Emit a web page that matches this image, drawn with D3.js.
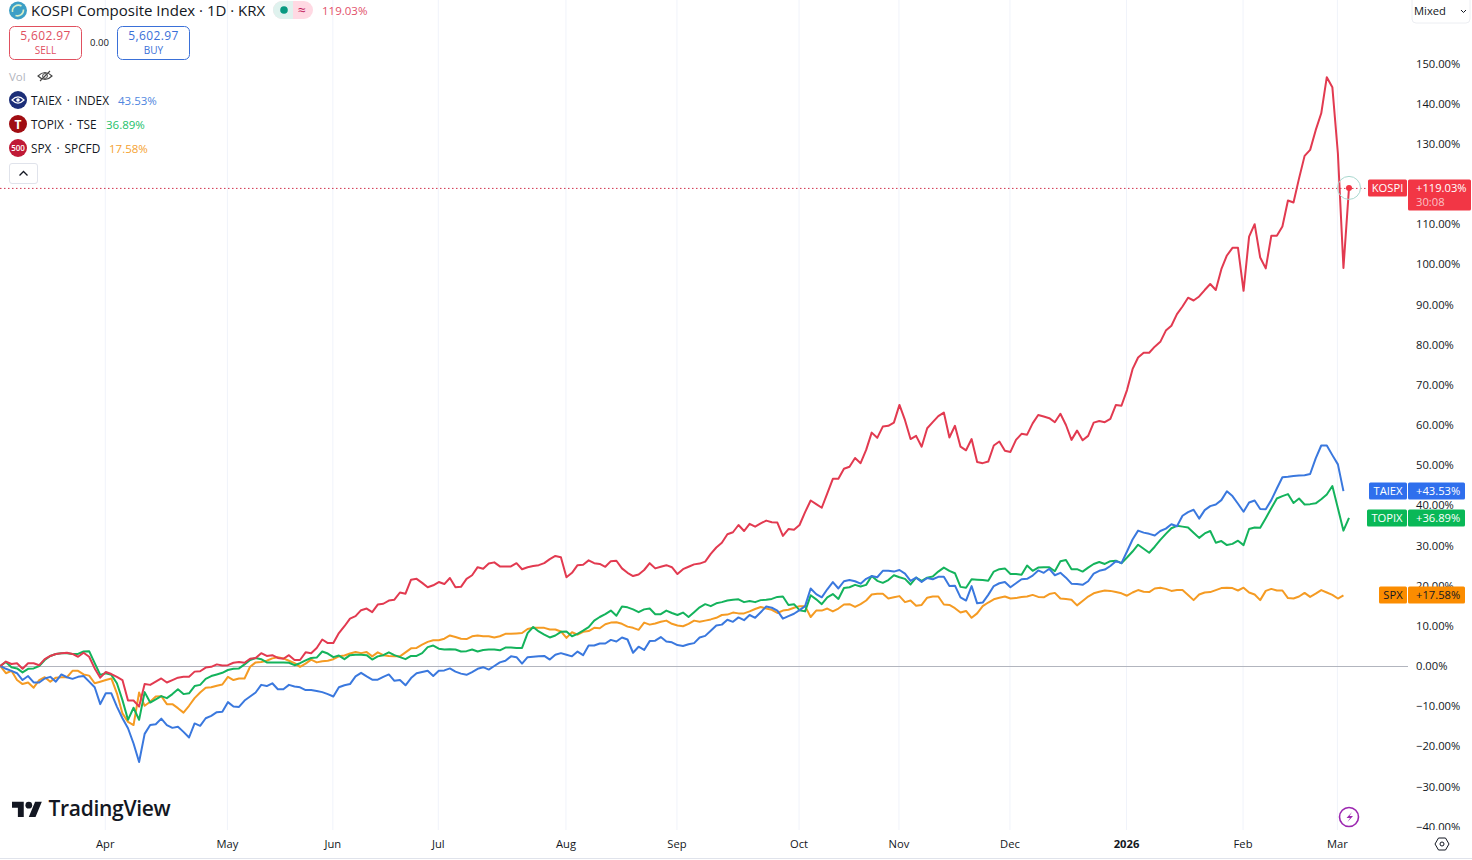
<!DOCTYPE html>
<html><head><meta charset="utf-8">
<script src="https://cdnjs.cloudflare.com/ajax/libs/d3/7.8.5/d3.min.js"></script>
<style>
html,body{margin:0;padding:0;background:#fff;overflow:hidden}
svg{display:block}
text{font-family:"Open Sans","Noto Sans",Roboto,sans-serif}
</style></head><body>
<svg id="c" width="1472" height="860"></svg>
<script>
const kospi=[0,1.1,.5,.7,-.7,.7,.7,.2,1.7,2.5,3,3.2,3.3,3,2.3,3.3,2.3,-.6,-2.9,-1.5,-2,-2.7,-3.5,-8.6,-8.6,-10.1,-4.5,-4.7,-3.9,-3.1,-4.1,-3.5,-2.9,-2.7,-2.7,-1.4,-1.3,-.4,-.2,.4,.1,.2,.8,1,.8,1.8,2,3.2,2.5,2.7,2,1.8,2.7,1.5,1.5,
3.4,3.2,4.5,6.6,5.7,5.7,8.2,9.9,11.8,12.4,13.9,14.3,13.4,15.3,15.5,16.3,16.5,18.3,18,21.5,21.7,20.7,19.6,20.1,20.9,20.4,21.9,19.6,19.7,21.7,22.6,24.6,24.2,25.5,25.8,24.8,24.8,24.8,25.6,24.1,24.6,24.9,25.1,25.6,26.6,27.4,27.1,22.1,23.2,25.1,25.2,26.3,25.6,
25.4,24.7,26.1,26.2,24.3,23.2,22.4,22.8,23.9,25.6,24.3,24.7,25.1,24.6,22.9,24.1,24.7,25.3,25.5,26,27.9,29.5,30.7,32.8,33.3,35.1,33.6,35.4,34.7,35.5,36.2,35.8,35.7,32.4,34.1,33.9,35.1,
38.3,41.2,40.3,39.4,43,46.6,46.6,49.1,49.6,51.8,50.5,53.8,58.1,56.8,59.6,59.8,60.6,65,61.2,56.5,57.3,54.6,59.2,60.7,62.2,63.1,56.9,59.8,54.6,53.7,56.5,50.8,50.5,50.9,54.9,55.9,53.6,53.3,56.3,57.8,57.6,60.4,62.5,62.1,61.7,60.7,62.8,60,56.3,58.6,56.2,57.3,60.6,61,60.7,61.5,65,64.8,68.7,
73.9,76.8,78,78,79.5,80.7,83.5,84.7,87.6,89.5,91.7,91,92,93.6,95.1,93.6,98.8,102.2,104.1,104.1,93.4,106.9,110,101.7,99,107.1,107.1,109.4,115.9,115.4,121.4,127,128.5,133.4,137.6,146.6,144.1,127.6,99.1,119.03];
const taiex=[0,-.7,-1.2,-1.8,-3.5,-2.5,-4.1,-4.1,-3.1,-2.7,-3.9,-2.1,-2.8,-3.2,-2.7,-2.5,-3.9,-5.3,-9.5,-6.8,-6.8,-10.1,-13,-15.5,-19.3,-23.9,-16.9,-14.7,-14.5,-13.1,-14.7,-15.4,-15.1,-16.4,-17.8,-14.3,-14.9,-13,-12.4,-11.5,-11.4,-9,-10.1,-10.2,-8.6,-7.6,-6.6,-4.7,-5,-4.3,-5.8,-5.8,-4.7,-5.1,-5.3,
-6,-6,-6.2,-6.5,-7,-7.6,-5.3,-4.8,-4.5,-2.6,-1.7,-2.6,-3.4,-3.4,-2.7,-2.1,-3.7,-3.5,-4.8,-3,-1.8,-1.5,-1.2,-2.5,-1.2,-1.1,-.6,-1.4,-1.9,-2.2,-1.5,-.7,-.3,-.9,0,.9,1.3,2.4,2.2,.6,2.2,2.3,2.4,2.5,1.6,2.8,3.2,2.8,2.4,3.6,2.7,5.1,5.1,
5.6,5.6,6.5,6.1,7.1,6.6,3.3,4.8,4,6.2,6.3,7.2,6.1,5.9,5.2,5,5.4,5.7,7.1,7.5,8.8,10.1,10.3,11.5,11,12.1,11.4,12.7,12,13.4,14.8,14.5,13.8,11.8,12.4,13,13.9,14.9,19.3,17.9,17.1,19.1,20.9,19.3,21.1,21.4,21.1,20.5,21.7,22.4,22.1,23.7,23.7,23.5,23.9,
23,21.2,22,20.9,21.9,21.6,22.2,22.2,19.9,20,17.1,16.3,19.9,15.6,15.8,17.7,19.9,20.6,20.9,19.6,20.6,21.6,21.7,22.5,23.8,23.2,24.2,22.6,23.2,22,20.5,20.4,20.2,21.1,23,23.7,24,24.9,26.1,25.6,28.5,31.5,33.7,33.2,32.9,32.5,33.6,34.2,35.3,34.8,37.4,38.3,38.9,36.7,
38.8,39.8,40.2,41.3,43.5,42.3,40.4,38.4,40.7,41.2,39.1,39,41.3,44.2,47,47.1,47.3,47.4,47.5,47.8,51.7,54.9,54.9,52.5,50.2,43.53];
const topix=[0,1,-.3,-.6,-1.6,-.7,-.6,0,1.5,2.5,3,3.2,3.2,3,3,3.6,3.7,.7,-2.2,-1.8,-2.2,-4.3,-8.5,-13.4,-10.4,-13.4,-6.5,-9.1,-8.3,-7.5,-8,-7,-5.8,-7,-6.8,-5,-4.7,-3.2,-2.5,-2.1,-1.7,-1,-.7,-.6,.4,1.5,2,1.7,.9,.9,.9,.9,.8,.2,.7,
1.4,2,2.1,3.6,3.1,2.2,2.6,1.7,2.7,2.8,2.8,2.7,1.6,2.4,2.7,3.4,2.7,2.2,1.7,2.5,2.5,3.2,4.7,5.1,4.3,4.1,4.2,4.1,3.6,3.7,4.1,3.6,4,4.1,4.1,3.9,4.6,4.6,4.5,4.5,8.2,9.7,8.6,7.8,7.1,7.6,8.5,8.6,7.4,8,8.8,9.7,11.3,
12.2,12.9,13.8,12.5,14.8,14.6,14.1,13.4,14.1,14.3,12.9,12.9,13.8,13.2,12.7,13.3,12.2,13.4,14.6,15.4,14.9,15.6,15.9,16.3,16.5,16.6,15.9,16.2,15.9,16.4,16.5,16.7,17.2,17.3,15.2,15.4,13.9,13.6,17.6,16.6,15.4,17.1,17.9,16.7,19.4,19.6,20.2,19.8,20.2,22.4,21.2,20.7,21.4,22.6,22.1,
21.7,20.3,22,21.2,22,22.3,23.5,24.5,23.7,23.1,19.7,19.5,21.6,21.5,21.4,21.2,23.5,24.1,24.3,22.9,22.9,22.7,25,23.7,24.5,24.6,24.6,23.6,26.1,26.4,24.1,24.1,23.5,24.5,25.4,25.9,25.4,26.1,26.2,25.6,27,28.5,30.2,29.2,28.2,29.7,31.4,32.9,34.3,34.9,34.7,34.5,33.2,31.9,
33,33.6,30.7,31.1,30.1,30.4,31.2,30.1,34.1,34.5,34.4,36.8,39.3,41.7,42.3,42.8,40.6,41.7,40.2,40.3,40.5,41.5,42.7,44.8,39.3,33.7,36.89];
const spx=[0,-1.8,-1.2,-3.5,-4.5,-4.1,-5.4,-3.5,-2.8,-3.9,-2.9,-2.8,-2.8,-1.2,-1.2,-2.1,-2.4,-4.3,-3.9,-3.5,-3.1,-6.8,-11.8,-13.9,-14.7,-6.6,-9.9,-8.9,-7.6,-7.5,-9.5,-9.5,-10.5,-11.6,-9.9,-8,-6.6,-5.4,-5.3,-4.9,-4.6,-2.7,-3.5,-3.1,-3.1,-.2,.9,1,1.3,1.9,2.2,1.9,1.3,.7,-.2,
.6,1.6,.9,1.2,1.3,1.7,2.4,2.6,3.1,3.5,3.2,3.5,2.4,3.4,2.7,2.5,2.4,2.4,3.4,4.4,4.5,5.3,6,6.4,6.4,6.8,7.6,7.2,6.8,6.7,7.4,7.6,7.4,7.4,7.1,7.4,8,8,8.1,8.2,9.2,9.5,9.5,9.5,9.1,9.1,8.6,7,8.4,7.8,8.5,8.7,9.5,
9.4,10.4,10.8,10.9,10.5,9.8,9.5,9,10.8,10.3,10.6,11,11.3,10.5,10.1,9.9,10.5,11.3,11,11.3,11.6,12,12.7,12.8,13.3,13.1,13.1,13.6,14.2,14.7,14.3,14,13.2,13.8,14,14.5,14.9,14.9,12.2,13.8,13.8,14.3,13.6,14.3,15.3,15.4,14.7,15.4,16.3,17.8,18,18,16.8,17.1,17.4,
15.9,16.3,15,15.2,17,17.3,17.3,15.3,15.2,14.4,13.3,13.7,12,13.1,14.9,15.8,16.6,17,17.3,16.8,16.9,17.2,17.3,17.7,17.2,17.1,17.9,18.2,16.8,16.7,16.5,15.1,16.2,17.3,18.1,18.5,18.8,18.7,18.4,18.1,17.5,18.3,18.9,18.5,18.4,19.3,19.5,19.2,18.7,18.9,18.9,17.7,16.4,17.8,
18.3,18.4,18.9,19.4,19.5,19.4,18.8,19.5,18.3,17.8,16.4,18.7,19.2,18.8,18.8,16.9,16.8,17.3,18.2,17.2,18,18.9,18.3,17.7,16.8,17.58];
const pctTicks=[150,140,130,110,100,90,80,70,60,50,40,30,20,10,0,-10,-20,-30,-40];
const monthBars=[19,41,60,79,102,122,144,162,182,203,224,241];
const monthLabels=["Apr","May","Jun","Jul","Aug","Sep","Oct","Nov","Dec","2026","Feb","Mar"];
const seriesNames=["KOSPI","TAIEX","TOPIX","SPX"];
const seriesColors=["#e23a50","#3a78de","#14b35c","#f59b23"];
const tagColors=["#f23645","#2f6fed","#09b857","#fb8c00"];
const allSeries=[kospi,taiex,topix,spx];
const legendRows=[["TAIEX · INDEX","43.53%"],["TOPIX · TSE","36.89%"],["SPX · SPCFD","17.58%"]];

const svg=d3.select("#c");
const x=d3.scaleLinear().domain([0,243]).range([0.35,1349]);
const y=d3.scaleLinear().domain([0,150]).range([666,63.5]);
const ink="#131722";

svg.append("g").selectAll("line").data(monthBars).join("line")
 .attr("x1",d=>x(d)-.5).attr("x2",d=>x(d)-.5).attr("y1",0).attr("y2",830)
 .attr("stroke","#f0f3fa").attr("stroke-width",1);
svg.append("line").attr("x1",0).attr("x2",1408).attr("y1",y(0)+.5).attr("y2",y(0)+.5).attr("stroke","#b2b5be");
svg.append("line").attr("x1",0).attr("x2",1368).attr("y1",y(119.03)+.5).attr("y2",y(119.03)+.5)
 .attr("stroke","#d0304a").attr("stroke-dasharray","1.5 2.5");

const line=d3.line().x((d,i)=>x(i)).y(d=>y(d));
[3,2,1,0].forEach(k=>{
 svg.append("path").datum(allSeries[k]).attr("d",line).attr("fill","none")
  .attr("stroke",seriesColors[k]).attr("stroke-width",2).attr("stroke-linejoin","round");
});
svg.append("circle").attr("cx",x(243)).attr("cy",y(119.03)).attr("r",11.5).attr("fill","none").attr("stroke","#a9d8cf").attr("stroke-width",1);
svg.append("circle").attr("cx",x(243)).attr("cy",y(119.03)).attr("r",3).attr("fill","#f23645");

const fmt=d=>(d<0?"\u2212":"")+Math.abs(d).toFixed(2)+"%";
const ax=svg.append("g").attr("transform","translate(1408,0)")
 .call(d3.axisRight(y).tickValues(pctTicks).tickSize(0).tickPadding(8).tickFormat(fmt));
ax.select(".domain").remove();
ax.selectAll("text").attr("font-size",11.2).attr("fill",ink).attr("font-family",'"Open Sans",sans-serif');

svg.append("rect").attr("x",0).attr("y",830).attr("width",1472).attr("height",30).attr("fill","#fff");
const tx=svg.append("g").attr("transform","translate(-1,834)")
 .call(d3.axisBottom(x).tickValues(monthBars).tickSize(0).tickPadding(6).tickFormat((d,i)=>monthLabels[i]));
tx.select(".domain").remove();
tx.selectAll("text").attr("font-size",11.2).attr("fill",ink).attr("font-family",'"Open Sans",sans-serif')
 .attr("font-weight",(d,i)=>monthLabels[i]==="2026"?700:400);
svg.append("line").attr("x1",0).attr("x2",1472).attr("y1",858.5).attr("y2",858.5).attr("stroke","#e0e3eb");

function tag(k,val,nameX){
 const yy=y(val), top=Math.round(yy)-8.5;
 const g=svg.append("g");
 g.append("rect").attr("x",nameX).attr("y",top).attr("width",1407-nameX).attr("height",17).attr("rx",1.5).attr("fill",tagColors[k]);
 const fg=k===3?"#131722":"#fff";
 g.append("text").attr("x",(nameX+1407)/2).attr("y",top+12.5).attr("text-anchor","middle").attr("font-size",11.2).attr("fill",fg).text(seriesNames[k]);
 g.append("rect").attr("x",1408).attr("y",top).attr("width",k===0?63:57).attr("height",k===0?31:17).attr("rx",1.5).attr("fill",tagColors[k]);
 g.append("text").attr("x",1416).attr("y",top+12.5).attr("font-size",11.2).attr("fill",fg).text("+"+val.toFixed(2)+"%");
 if(k===0) g.append("text").attr("x",1416).attr("y",top+26.5).attr("font-size",11.2).attr("fill","#fff").attr("fill-opacity",.7).text("30:08");
}
tag(1,taiex[taiex.length-1],1369);
tag(2,topix[topix.length-1],1367);
tag(3,spx[spx.length-1],1379);
tag(0,kospi[kospi.length-1],1368);

svg.append("circle").attr("cx",18).attr("cy",10.5).attr("r",9).attr("fill","#3c9fc6");
svg.append("path").attr("d","M12.5 12a6 6 0 0 1 9-6M23.5 9.5a6 6 0 0 1-8 6").attr("fill","none").attr("stroke","#d8efc8").attr("stroke-width",1.6);
svg.append("text").attr("x",31).attr("y",16).attr("font-size",15).attr("fill",ink).text("KOSPI Composite Index · 1D · KRX");
svg.append("rect").attr("x",273).attr("y",1).attr("width",40).attr("height",18).attr("rx",9).attr("fill","#ffd9e3");
svg.append("path").attr("d","M282 1h11v18h-11a9 9 0 0 1 0-18z").attr("fill","#dff2ee");
svg.append("circle").attr("cx",284).attr("cy",10).attr("r",3.8).attr("fill","#089981");
svg.append("text").attr("x",302).attr("y",14.5).attr("text-anchor","middle").attr("font-size",14).attr("fill","#c2185b").text("≈");
svg.append("text").attr("x",322).attr("y",15).attr("font-size",11.5).attr("fill","#e2506a").text("119.03%");

[[9.5,"#e0505f","5,602.97","SELL"],[117.5,"#3a70d8","5,602.97","BUY"]].forEach(b=>{
 svg.append("rect").attr("x",b[0]).attr("y",26.5).attr("width",72).attr("height",33).attr("rx",5).attr("fill","#fff").attr("stroke",b[1]);
 svg.append("text").attr("x",b[0]+36).attr("y",40).attr("text-anchor","middle").attr("font-size",12).attr("letter-spacing",.4).attr("fill",b[1]).text(b[2]);
 svg.append("text").attr("x",b[0]+36).attr("y",54).attr("text-anchor","middle").attr("font-size",10).attr("fill",b[1]).text(b[3]);
});
svg.append("text").attr("x",99.5).attr("y",46).attr("text-anchor","middle").attr("font-size",9.5).attr("fill",ink).text("0.00");
svg.append("text").attr("x",9).attr("y",81).attr("font-size",11.5).attr("fill","#b2b5be").text("Vol");
svg.append("path").attr("d","M38 76q7-7 14 0q-7 7-14 0zM40 81l10-10").attr("fill","none").attr("stroke","#444").attr("stroke-width",1.1);
svg.append("circle").attr("cx",45).attr("cy",76).attr("r",2.4).attr("fill","none").attr("stroke","#444").attr("stroke-width",1);

const rowY=[100,124,148], iconCol=["#1c2e78","#a00d12","#c01a36"], valCol=["#4f86e0","#22bf6a","#f5a231"], valX=[118,106,109];
legendRows.forEach((r,i)=>{
 svg.append("circle").attr("cx",18).attr("cy",rowY[i]).attr("r",9).attr("fill",iconCol[i]);
 svg.append("text").attr("x",31).attr("y",rowY[i]+4.5).attr("font-size",11.8).attr("word-spacing",2).attr("fill",ink).text(r[0]);
 svg.append("text").attr("x",valX[i]).attr("y",rowY[i]+4.5).attr("font-size",11.5).attr("fill",valCol[i]).text(r[1]);
});
svg.append("path").attr("d","M12 100q6-6 12 0q-6 6-12 0z").attr("fill","none").attr("stroke","#fff").attr("stroke-width",1.2);
svg.append("circle").attr("cx",18).attr("cy",100).attr("r",1.8).attr("fill","#fff");
svg.append("text").attr("x",18).attr("y",128.5).attr("text-anchor","middle").attr("font-size",12).attr("font-weight",700).attr("fill","#fff").text("T");
svg.append("text").attr("x",18).attr("y",151).attr("text-anchor","middle").attr("font-size",8).attr("font-weight",600).attr("fill","#fff").text("500");
svg.append("rect").attr("x",9.5).attr("y",163.5).attr("width",28).attr("height",20).attr("rx",2.5).attr("fill","#fff").attr("stroke","#e0e3eb");
svg.append("path").attr("d","M19.5 175.5l4-4 4 4").attr("fill","none").attr("stroke",ink).attr("stroke-width",1.3);

svg.append("rect").attr("x",1412).attr("y",-4).attr("width",58).attr("height",27).attr("rx",4).attr("fill","#fff").attr("stroke","#eceef2");
svg.append("text").attr("x",1414).attr("y",15).attr("font-size",11.2).attr("fill",ink).text("Mixed");
svg.append("path").attr("d","M1461 10l2.5 2.5 2.5-2.5").attr("fill","none").attr("stroke",ink).attr("stroke-width",1);

const logo=svg.append("g").attr("transform","translate(12,798.5) scale(.84)").attr("fill","#131722");
logo.append("path").attr("d","M14 22H7V11H0V4h14v18zM28 22h-8l7.5-18h8L28 22z");
logo.append("circle").attr("cx",20).attr("cy",8).attr("r",4);
svg.append("text").attr("x",48.5).attr("y",816).attr("font-size",21).attr("font-weight",600).attr("font-family",'Inter,sans-serif').attr("letter-spacing",-.3).attr("fill","#131722").text("TradingView");

svg.append("circle").attr("cx",1349).attr("cy",817).attr("r",9.5).attr("fill","#fff").attr("stroke","#9c27b0").attr("stroke-width",1.6);
svg.append("path").attr("d","M1352 812l-5.5 6h3.5l-2.5 4 5.5-6h-3.5z").attr("fill","#9c27b0");
svg.append("path").attr("d","M1435 844l3.5-6h7l3.5 6-3.5 6h-7z").attr("fill","none").attr("stroke",ink).attr("stroke-width",1);
svg.append("circle").attr("cx",1442).attr("cy",844).attr("r",2).attr("fill","none").attr("stroke",ink).attr("stroke-width",1);
</script></body></html>
